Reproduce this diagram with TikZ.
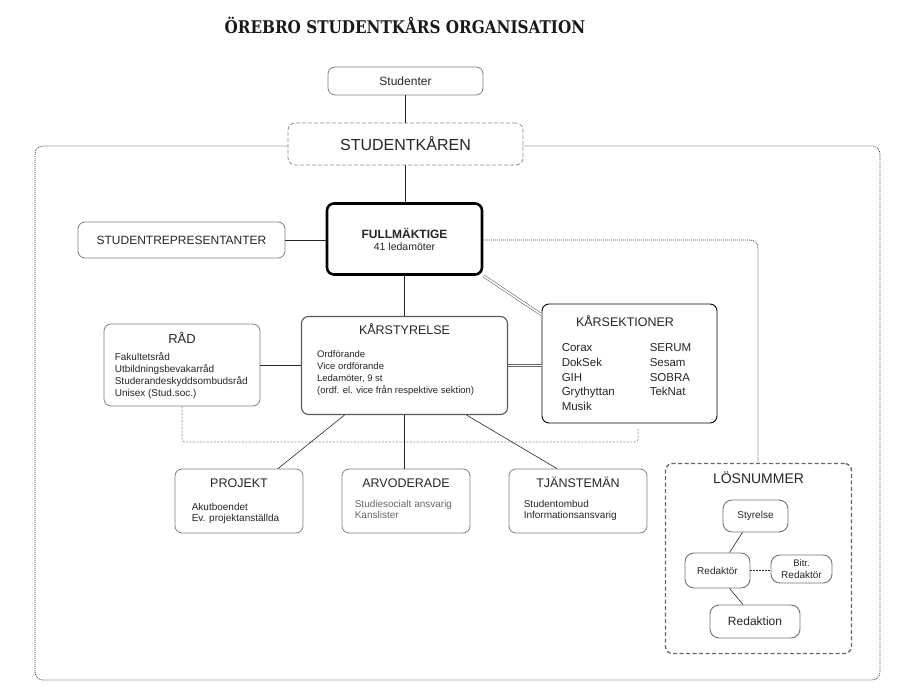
\documentclass[tikz,border=0pt]{standalone}
\usepackage{fontspec}
\setsansfont{Liberation Sans}
\newfontfamily\titlefont{DejaVu Serif}
\usetikzlibrary{positioning}

\begin{document}
\begin{tikzpicture}[x=1pt,y=-1pt,
      box/.style={draw=black!50,line width=0.8pt,rounded corners=7pt,fill=white,font=\sffamily,text=black!85,inner sep=0pt},
      sub/.style={box,rounded corners=9pt,draw=black!55,line width=0.9pt},
      head/.style={font=\sffamily\fontsize{12.5}{14}\selectfont,text=black!85,anchor=base,inner sep=0pt},
      items/.style={font=\sffamily\fontsize{10}{11.7}\selectfont,text=black!85,align=left,inner sep=0pt},
      link/.style={draw=black!85,line width=0.7pt},
      twin/.style={draw=black!60,double,double distance=1.6pt,line width=0.6pt},
      frame/.style={draw=black!75,dash pattern=on 1pt off 1pt,line width=0.75pt,rounded corners=8pt},
    ]
    \useasboundingbox (0,0) rectangle (910,700);
    \node[font=\titlefont\bfseries\fontsize{17.5}{18}\selectfont,text=black!90] (title) at (405,25) {\scalebox{0.87}[1]{ÖREBRO STUDENTKÅRS ORGANISATION}};

    \draw[frame] (35,146) rectangle (880,680);
    \draw[frame] (483,240) -| (758,463);

    \node[box,minimum width=155pt,minimum height=28pt] (stud) at (405.5,81) {\fontsize{12}{14}\selectfont Studenter};
    \node[box,draw=black!45,dash pattern=on 4pt off 2pt,minimum width=235pt,minimum height=42pt] (kar) at (405.5,144) {\fontsize{16}{18}\selectfont STUDENTKÅREN};
    \node[box,draw=black,line width=2.6pt,minimum width=155pt,minimum height=71pt,align=center] (full) at (404.5,239)
        {{\bfseries\fontsize{12}{15}\selectfont FULLMÄKTIGE}\\{\fontsize{10.5}{15}\selectfont 41 ledamöter}};
    \node[box,minimum width=207pt,minimum height=36pt] (rep) at (181.5,240) {\fontsize{12}{14}\selectfont STUDENTREPRESENTANTER};

    \draw[black!45,dash pattern=on 2pt off 1.5pt,line width=0.7pt,rounded corners=3pt] (182,406) -- (182,442) -| (638,428);

    \node[box,draw=black!65,line width=1.1pt,minimum width=206pt,minimum height=98pt] (styr) at (404.5,365.5) {};
    \node[head] (styrhead) at ([yshift=-19pt]styr.north) {KÅRSTYRELSE};
    \node[items,font=\sffamily\fontsize{9.5}{12}\selectfont,below right=34pt and 16pt of styr.north west] (styrlist)
        {Ordförande\\Vice ordförande\\Ledamöter, 9 st\\(ordf. el. vice från respektive sektion)};

    \node[box,draw=black,line width=0.9pt,minimum width=175pt,minimum height=119pt] (sek) at (629.5,363.5) {};
    \node[head] (sekhead) at ([xshift=-4.5pt,yshift=-23pt]sek.north) {KÅRSEKTIONER};
    \node[items,font=\sffamily\fontsize{11.5}{14.7}\selectfont,below right=40pt and 20pt of sek.north west] (sekleft)
        {Corax\\DokSek\\GIH\\Grythyttan\\Musik};
    \node[items,font=\sffamily\fontsize{11.5}{14.7}\selectfont,below right=40pt and 108pt of sek.north west] (sekright)
        {SERUM\\Sesam\\SOBRA\\TekNat};

    \node[box,minimum width=156pt,minimum height=82pt] (rad) at (182,365) {};
    \node[head,font=\sffamily\fontsize{13}{15}\selectfont] (radhead) at ([yshift=-20pt]rad.north) {RÅD};
    \node[items,font=\sffamily\fontsize{10}{12}\selectfont,below right=29pt and 11pt of rad.north west] (radlist)
        {Fakultetsråd\\Utbildningsbevakarråd\\Studerandeskyddsombudsråd\\Unisex (Stud.soc.)};

    \node[box,minimum width=128pt,minimum height=64pt] (proj) at (239,501) {};
    \node[head] (projhead) at ([yshift=-19pt]proj.north) {PROJEKT};
    \node[items,below right=34pt and 17pt of proj.north west] (projlist) {Akutboendet\\Ev. projektanställda};

    \node[box,minimum width=128pt,minimum height=64pt] (arvo) at (406,501) {};
    \node[head] (arvohead) at ([yshift=-19pt]arvo.north) {ARVODERADE};
    \node[items,text=black!60,below right=31pt and 13pt of arvo.north west] (arvolist) {Studiesocialt ansvarig\\Kanslister};

    \node[box,minimum width=138pt,minimum height=64pt] (tjan) at (578,501) {};
    \node[head] (tjanhead) at ([yshift=-19pt]tjan.north) {TJÄNSTEMÄN};
    \node[items,below right=31pt and 15pt of tjan.north west] (tjanlist) {Studentombud\\Informationsansvarig};

    \node[box,draw=black!60,line width=1.3pt,dash pattern=on 4pt off 2.5pt,minimum width=186pt,minimum height=190pt] (los) at (758.5,558.5) {};
    \node[head,font=\sffamily\fontsize{14}{16}\selectfont] (loshead) at ([yshift=-21pt]los.north) {LÖSNUMMER};
    \node[sub,minimum width=65pt,minimum height=32pt] (lstyr) at (755.5,516) {\fontsize{10}{12}\selectfont Styrelse};
    \node[sub,minimum width=65pt,minimum height=35pt] (lred) at (717.5,570.5) {\fontsize{10}{12}\selectfont Redaktör};
    \node[sub,minimum width=61pt,minimum height=28pt,align=center] (lbitr) at (801.5,569) {\fontsize{9.5}{12}\selectfont Bitr.\\Redaktör};
    \node[sub,minimum width=90pt,minimum height=33pt] (lredn) at (755,621.5) {\fontsize{12}{14}\selectfont Redaktion};

    \draw[link] (stud.south) -- (stud.south |- kar.north);
    \draw[link] (kar.south) -- (kar.south |- full.north);
    \draw[link] (rep.east) -- (rep.east -| full.west);
    \draw[link] (full.south) -- (full.south |- styr.north);
    \draw[link] (rad.east) -- (rad.east -| styr.west);
    \draw[twin] (full.south east) -- (sek.151);
    \draw[twin] (styr.east) -- (styr.east -| sek.west);
    \draw[link,line width=0.6pt] ([xshift=-60pt]styr.south) -- ([xshift=39pt]proj.north);
    \draw[link,line width=0.6pt] (styr.south) -- (styr.south |- arvo.north);
    \draw[link,line width=0.6pt] ([xshift=62pt]styr.south) -- ([xshift=-21pt]tjan.north);
    \draw[link,line width=0.6pt] ([xshift=-13pt]lstyr.south) -- ([xshift=12pt]lred.north);
    \draw[link,line width=0.6pt,dash pattern=on 2pt off 1pt] (lred.east) -- (lred.east -| lbitr.west);
    \draw[link,line width=0.6pt] ([xshift=12pt]lred.south) -- ([xshift=-12pt]lredn.north);
\end{tikzpicture}
\end{document}
